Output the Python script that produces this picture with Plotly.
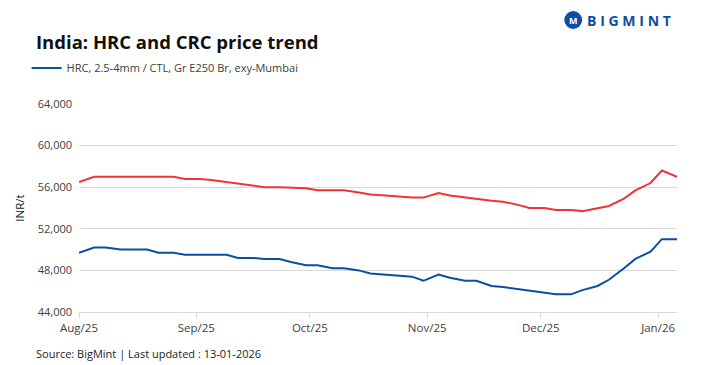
import plotly.graph_objects as go

dates = ["2025-08-01", "2025-08-05", "2025-08-08", "2025-08-12", "2025-08-15", "2025-08-19",
         "2025-08-22", "2025-08-26", "2025-08-29", "2025-09-02", "2025-09-05", "2025-09-09",
         "2025-09-12", "2025-09-16", "2025-09-19", "2025-09-23", "2025-09-26", "2025-09-30",
         "2025-10-03", "2025-10-07", "2025-10-10", "2025-10-14", "2025-10-17", "2025-10-21",
         "2025-10-24", "2025-10-28", "2025-10-31", "2025-11-04", "2025-11-07", "2025-11-11",
         "2025-11-14", "2025-11-18", "2025-11-21", "2025-11-25", "2025-11-28", "2025-12-02",
         "2025-12-05", "2025-12-09", "2025-12-12", "2025-12-16", "2025-12-19", "2025-12-23",
         "2025-12-26", "2025-12-30", "2026-01-02", "2026-01-06"]

hrc = [49700, 50200, 50200, 50000, 50000, 50000, 49700, 49700, 49500, 49500, 49500, 49500,
       49200, 49200, 49100, 49100, 48800, 48500, 48500, 48200, 48200, 48000, 47700, 47600,
       47500, 47400, 47000, 47600, 47300, 47000, 47000, 46500, 46400, 46200, 46000, 45800,
       45700, 45700, 46100, 46500, 47100, 48200, 49100, 49800, 51000, 51000]

crc = [56500, 57000, 57000, 57000, 57000, 57000, 57000, 57000, 56800, 56800, 56700, 56500,
       56300, 56100, 56000, 56000, 55950, 55900, 55700, 55700, 55700, 55500, 55300, 55200,
       55100, 55000, 55000, 55450, 55200, 55000, 54900, 54700, 54600, 54300, 54000, 54000,
       53800, 53800, 53700, 54000, 54200, 54900, 55700, 56400, 57600, 57000]

y_ticks = [44000, 48000, 52000, 56000, 60000, 64000]
x_ticks = ["2025-08-01", "2025-09-01", "2025-10-01", "2025-11-01", "2025-12-01", "2026-01-01"]
x_labels = ["Aug/25", "Sep/25", "Oct/25", "Nov/25", "Dec/25", "Jan/26"]

FONT = "Open Sans"
TXT = "#404040"
BLUE = "#0b4ea2"
RED = "#f03434"

PW = 605.0   # plot width in px
PH = 208.0   # plot height in px
PL = 72.0    # plot left in window px
PT = 104.0   # plot top in window px


def px(xw):
    return (xw - PL) / PW


def py(yw):
    return 1 + (PT - yw) / PH


fig = go.Figure()
fig.add_trace(go.Scatter(x=dates, y=crc, mode="lines", name="CRC",
                         line=dict(color=RED, width=2), showlegend=False))
fig.add_trace(go.Scatter(x=dates, y=hrc, mode="lines",
                         name="HRC, 2.5-4mm / CTL, Gr E250 Br, exy-Mumbai",
                         line=dict(color=BLUE, width=2)))

sp = "\u2009\u200a"
fig.update_layout(
    width=719, height=357,
    margin=dict(l=64, r=50, t=96, b=53),
    paper_bgcolor="white", plot_bgcolor="white",
    font=dict(family=FONT, color=TXT, size=11),
    showlegend=True,
    legend=dict(orientation="h", x=px(19), xanchor="left", y=py(68), yanchor="middle",
                font=dict(size=11, color=TXT, family=FONT), bgcolor="rgba(0,0,0,0)",
                itemwidth=30, tracegroupgap=0),
    xaxis=dict(type="date", range=["2025-08-01", "2026-01-06"],
               tickvals=x_ticks, ticktext=x_labels, showgrid=False,
               showline=True, linecolor="#d9d9d9", linewidth=1,
               ticks="outside", ticklen=5, tickcolor="#d9d9d9",
               tickfont=dict(size=11.5, color=TXT), zeroline=False),
    yaxis=dict(range=[44000, 64000], tickvals=y_ticks, tickformat=",d",
               showgrid=True, gridcolor="#d9d9d9", gridwidth=1, zeroline=False,
               tickfont=dict(size=11, color=TXT), ticks="", ticklabelstandoff=6,
               title=dict(text="INR/t", font=dict(size=11.5, color="#222"), standoff=10)),
    annotations=[
        dict(text="<b>India: HRC and CRC price trend</b>", xref="paper", yref="paper",
             x=px(26), y=py(42), xanchor="left", yanchor="middle",
             showarrow=False, font=dict(size=18.5, color="#111", family=FONT)),
        dict(text="Source: BigMint | Last updated : 13-01-2026", xref="paper", yref="paper",
             x=px(26), y=py(353), xanchor="left", yanchor="middle",
             showarrow=False, font=dict(size=11, color="#222", family=FONT)),
        dict(text="<b>" + sp.join("BIGMINT") + "</b>", xref="paper", yref="paper",
             x=px(584), y=py(20), xanchor="left", yanchor="middle",
             showarrow=False, font=dict(size=14, color=BLUE, family=FONT)),
        dict(text="<b>M</b>", xref="paper", yref="paper",
             x=px(572), y=py(20), xanchor="center", yanchor="middle",
             showarrow=False, font=dict(size=9, color="white", family=FONT)),
    ],
    shapes=[
        dict(type="circle", xref="paper", yref="paper",
             x0=px(563), x1=px(581), y0=py(29), y1=py(11),
             fillcolor=BLUE, line=dict(width=0)),
    ],
)

fig.write_html("out.html")
